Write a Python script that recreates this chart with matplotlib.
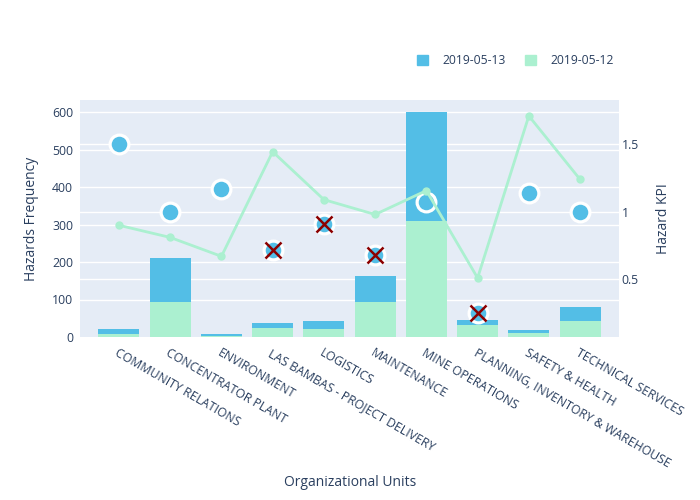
import matplotlib
matplotlib.use("Agg")
import matplotlib.pyplot as plt
from matplotlib.patches import Patch
import numpy as np

plt.rcParams['font.family'] = ['Open Sans', 'DejaVu Sans']

units = ["COMMUNITY RELATIONS", "CONCENTRATOR PLANT", "ENVIRONMENT",
         "LAS BAMBAS - PROJECT DELIVERY", "LOGISTICS", "MAINTENANCE",
         "MINE OPERATIONS", "PLANNING, INVENTORY & WAREHOUSE",
         "SAFETY & HEALTH", "TECHNICAL SERVICES"]
freq_0512 = [7, 94, 4, 23, 22, 94, 310, 32, 10, 44]
freq_0513 = [14, 118, 5, 14, 21, 70, 291, 13, 8, 36]
kpi_0512 = [0.90, 0.81, 0.67, 1.445, 1.09, 0.98, 1.157, 0.51, 1.71, 1.24]
kpi_0513 = [1.50, 1.00, 1.17, 0.72, 0.907, 0.68, 1.075, 0.25, 1.14, 1.00]
flagged = [False, False, False, True, True, True, False, True, False, False]
left_ticks = [0, 100, 200, 300, 400, 500, 600]
right_ticks = [0.5, 1, 1.5]

BLUE = "#53BEE6"
GREEN = "#ABF0D0"
BG = "#E5ECF6"
TXT = "#2a3f5f"

fig = plt.figure(figsize=(7, 5), dpi=100)
ax = fig.add_axes([80/700, 1-337/500, (619-80)/700, (337-100)/500])
ax2 = ax.twinx()
ax.set_facecolor(BG)
ax2.patch.set_visible(False)

x = np.arange(len(units))
ylim1 = (0, 632)
ylim2 = (0.0726, 1.828)

# gridlines (all below traces)
for t in left_ticks[1:]:
    ax.axhline(t, color="white", lw=1.0, zorder=0)
for t in right_ticks:
    yv = ylim1[0] + (t - ylim2[0]) / (ylim2[1] - ylim2[0]) * (ylim1[1] - ylim1[0])
    ax.axhline(yv, color="white", lw=1.0, zorder=0)

ax.bar(x, freq_0512, width=0.8, color=GREEN, zorder=2)
ax.bar(x, freq_0513, width=0.8, bottom=freq_0512, color=BLUE, zorder=2)
ax.set_xlim(-0.761, 9.76)
ax.set_ylim(*ylim1)
ax2.set_ylim(*ylim2)

# KPI markers for 2019-05-13
ax2.plot(x, kpi_0513, 'o', ms=13.5, mfc=BLUE, mec="white", mew=2.3, ls='none', zorder=3)
# KPI line for 2019-05-12
ax2.plot(x, kpi_0512, '-o', color=GREEN, lw=2, ms=5, zorder=4)
# flagged
fx = [xi for xi, f in zip(x, flagged) if f]
fk = [k for k, f in zip(kpi_0513, flagged) if f]
ax2.plot(fx, fk, 'x', color="#8B0000", ms=11.5, mew=1.8, ls='none', zorder=5)

for a in (ax, ax2):
    for s in a.spines.values():
        s.set_visible(False)
    a.tick_params(length=0, colors=TXT, labelsize=8.8)

ax.set_yticks(left_ticks)
ax2.set_yticks(right_ticks)
ax2.set_yticklabels(["0.5", "1", "1.5"])
ax.tick_params(axis='y', pad=5)
ax2.tick_params(axis='y', pad=2)
ax.set_xticks(x)
ax.set_xticklabels(units, rotation=-30, ha='left', va='top', rotation_mode='anchor')
ax.tick_params(axis='x', pad=7)

ax.set_ylabel("Hazards Frequency", color=TXT, fontsize=10, labelpad=9)
ax2.set_ylabel("Hazard KPI", color=TXT, fontsize=10, labelpad=12)
fig.text(350/700, 1-482/500, "Organizational Units", color=TXT, fontsize=10,
         ha='center', va='center')

handles = [Patch(facecolor=BLUE, edgecolor=BLUE), Patch(facecolor=GREEN, edgecolor=GREEN)]
fig.legend(handles, ["2019-05-13", "2019-05-12"], ncol=2, frameon=False,
           loc='center left', bbox_to_anchor=(406/700, 1-61/500),
           handlelength=0.9, handleheight=0.9, handletextpad=1.2, columnspacing=1.6,
           labelcolor=TXT, prop={'size': 8.7})

fig.savefig("out.png", dpi=100, facecolor="white")
